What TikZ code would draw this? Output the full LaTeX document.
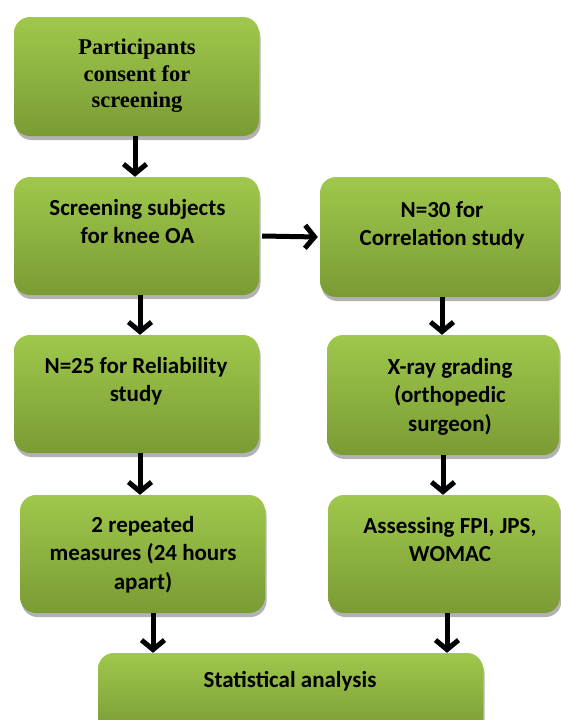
\documentclass[tikz,border=0pt]{standalone}
\usepackage{fontspec}
\setmainfont{Carlito}
\newfontfamily\serifbold{Liberation Serif}
\usetikzlibrary{arrows.meta,shadows}
\definecolor{gtop}{HTML}{9FC84C}
\definecolor{gbot}{HTML}{7A9B34}
\tikzset{
  box/.style={draw=none, rounded corners=16pt, top color=gtop, bottom color=gbot,
    drop shadow={shadow xshift=1.5pt, shadow yshift=-4pt, fill=black, opacity=0.3},
    inner sep=0pt, minimum width=245pt},
  lbl/.style={font=\fontsize{23}{28.5}\selectfont\bfseries, align=center, anchor=north, inner sep=0pt, text=black},
  lblserif/.style={font=\serifbold\fontsize{22.5}{26.5}\selectfont\bfseries, align=center, anchor=north, inner sep=0pt, text=black},
  arr/.style={line width=5pt, -{Straight Barb[length=9.5pt,width=23pt]}}
}
\begin{document}
\begin{tikzpicture}[x=1pt,y=-1pt]
\useasboundingbox (0,0) rectangle (561,720);
% boxes
\node[box, minimum width=245pt, minimum height=119pt] (b1) at (136.5,76.5) {};
\node[box, minimum width=245pt, minimum height=118pt] (b2) at (136.5,236) {};
\node[box, minimum width=240pt, minimum height=120pt] (b3) at (440,237) {};
\node[box, minimum width=245pt, minimum height=118pt] (b4) at (136.5,394) {};
\node[box, minimum width=232pt, minimum height=120pt] (b5) at (443,395) {};
\node[box, minimum width=245pt, minimum height=118pt] (b6) at (142.5,554) {};
\node[box, minimum width=232pt, minimum height=118pt] (b7) at (444,554) {};
\node[box, minimum width=385pt, minimum height=80pt] (b8) at (290.5,693) {};
% labels
\node[lblserif] (t1) at (137,39) {Participants\\consent for\\screening};
\node[lbl] (t2) at (137.5,199) {Screening subjects\\for knee OA};
\node[lbl] (t3) at (442,201) {N=30 for\\Correlation study};
\node[lbl] (t4) at (136,357) {N=25 for Reliability\\study};
\node[lbl] (t5) at (450,358) {X-ray grading\\(orthopedic\\surgeon)};
\node[lbl] (t6) at (143,516) {2 repeated\\measures (24 hours\\apart)};
\node[lbl] (t7) at (450,517) {Assessing FPI, JPS,\\WOMAC};
\node[lbl] (t8) at (290,671) {Statistical analysis};
% arrows
\draw[arr] ([xshift=-1.5pt]b1.south) -- ([xshift=-1.5pt]b2.north);
\draw[arr] ([xshift=3.5pt]b2.south) -- ([xshift=3.5pt]b4.north);
\draw[arr] ([xshift=3.5pt]b4.south) -- ([xshift=-2.5pt]b6.north);
\draw[arr] ([xshift=3pt]b2.east) -- ([xshift=-2pt]b3.west);
\draw[arr] ([xshift=2pt]b3.south) -- ([xshift=-1pt]b5.north);
\draw[arr] ([xshift=0pt]b5.south) -- ([xshift=-1pt]b7.north);
\draw[arr] ([xshift=10.5pt]b6.south) -- ([xshift=-137.5pt]b8.north);
\draw[arr] ([xshift=3pt]b7.south) -- ([xshift=156.5pt]b8.north);
\end{tikzpicture}
\end{document}
